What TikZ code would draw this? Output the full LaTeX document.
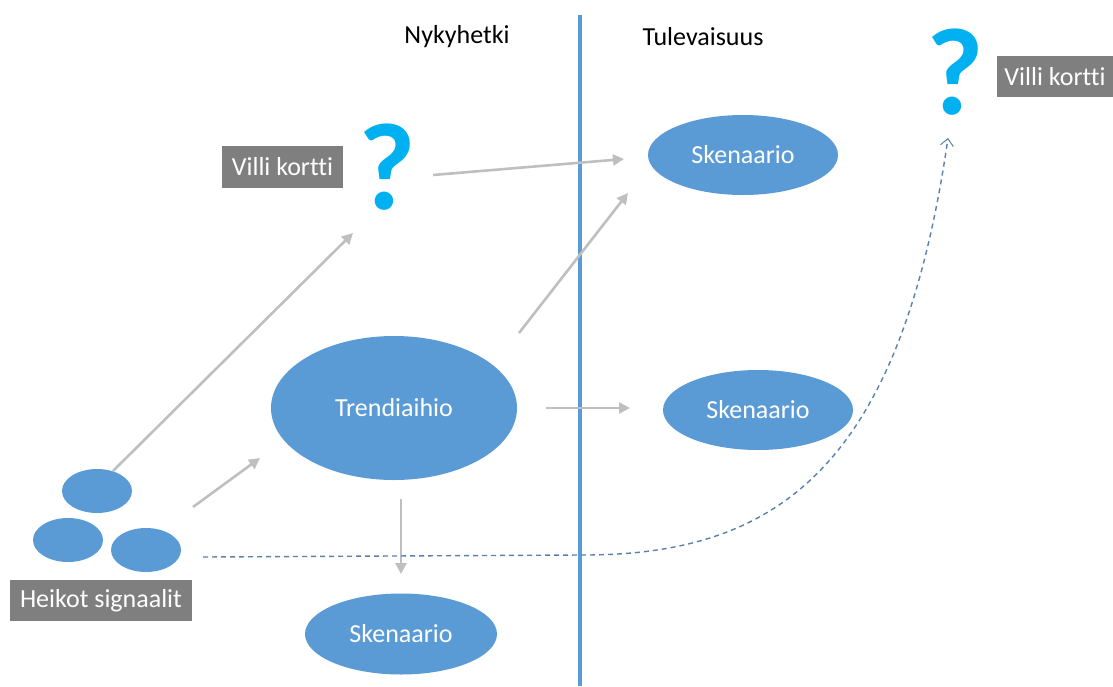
\documentclass[tikz,border=0pt]{standalone}
\usepackage{fontspec}
\setmainfont[Ligatures=NoCommon]{Carlito}
\usetikzlibrary{arrows.meta,shapes.geometric}
\definecolor{blob}{HTML}{5B9BD5}
\definecolor{qcol}{HTML}{00B0F0}
\definecolor{tag}{HTML}{7F7F7F}
\definecolor{flow}{HTML}{BFBFBF}
\definecolor{dashblue}{HTML}{5A80AC}
\tikzset{
  blobnode/.style={ellipse, fill=blob, draw=none, inner sep=0pt, text=white, font=\fontsize{26}{30}\selectfont},
  tagnode/.style={rectangle, fill=tag, draw=none, text=white, inner sep=0pt, font=\fontsize{26}{30}\selectfont},
  qnode/.style={text=qcol, inner sep=0pt, font=\fontsize{124}{126}\selectfont\bfseries},
  headnode/.style={inner sep=0pt, font=\fontsize{26}{30}\selectfont},
  flowarrow/.style={draw=flow, line width=2.6pt, -{Triangle[length=11pt,width=11pt]}, shorten >=0pt},
}
\begin{document}
\begin{tikzpicture}[x=1pt,y=-1pt]
\useasboundingbox (0,0) rectangle (1113,686);
% divider between present and future
\draw[blob, line width=3.3pt] (580,15) -- (580,686);
\node[headnode] (now) at (457,37) {Nykyhetki};
\node[headnode] (fut) at (703,37) {Tulevaisuus};

% ellipses
\node[blobnode, minimum width=190pt, minimum height=80pt] (s1) at (743,155) {Skenaario};
\node[blobnode, minimum width=190pt, minimum height=80pt] (s2) at (758,410) {Skenaario};
\node[blobnode, minimum width=192pt, minimum height=81pt] (s3) at (401,634) {Skenaario};
\node[blobnode, minimum width=246pt, minimum height=144pt] (tr) at (394,408) {Trendiaihio};
\node[blobnode, minimum width=70pt, minimum height=44pt] (w1) at (97,491) {};
\node[blobnode, minimum width=70pt, minimum height=44pt] (w2) at (68,540) {};
\node[blobnode, minimum width=70pt, minimum height=44pt] (w3) at (146,550) {};

% labels
\node[tagnode, minimum width=182pt, minimum height=41pt] (hs) at (101,600.5) {Heikot signaalit};
\node[tagnode, minimum width=121pt, minimum height=42pt] (vk1) at (282.5,167) {Villi kortti};
\node[tagnode, minimum width=116pt, minimum height=41pt] (vk2) at (1055,76.5) {Villi kortti};
\node[qnode] (q1) at (387,167) {?};
\node[qnode] (q2) at (955,72) {?};

% helper points for the free arrow ends
\coordinate (a1s) at (113,471);  \coordinate (a1e) at (353,233);
\coordinate (a2s) at (193,507);  \coordinate (a2e) at (260,458);
\coordinate (a3s) at (433,175);  \coordinate (a3e) at (624,159);
\coordinate (a4s) at (519,333);  \coordinate (a4e) at (628,193);
\coordinate (a5s) at (546,408);  \coordinate (a5e) at (630,408);
\coordinate (a6s) at (401,499);  \coordinate (a6e) at (401,574);

\draw[flowarrow] (a1s) -- (a1e);
\draw[flowarrow] (a2s) -- (a2e);
\draw[flowarrow] (a3s) -- (a3e);
\draw[flowarrow] (a4s) -- (a4e);
\draw[flowarrow] (a5s) -- (a5e);
\draw[flowarrow] (a6s) -- (a6e);

% weak signals leading to a future wild card
\coordinate (d0) at (203,557);
\coordinate (d1) at (580,555);
\coordinate (d2) at (948,138);
\draw[dashblue, line width=1.4pt, dash pattern=on 5pt off 4pt, -{Straight Barb[length=7pt,width=13pt,line width=1pt]}]
  (d0) -- (d1) .. controls (775,556) and (900,470) .. (d2);
\end{tikzpicture}
\end{document}
